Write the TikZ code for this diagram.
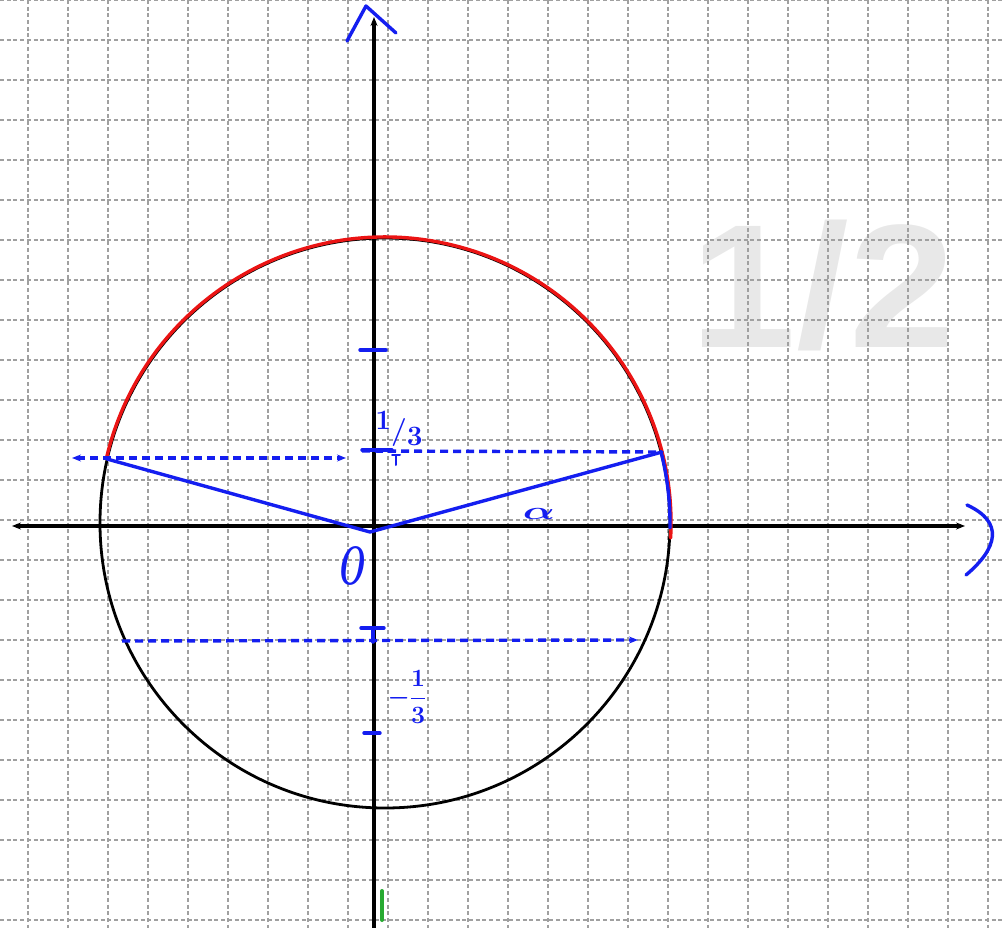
\documentclass[tikz,border=0pt]{standalone}
\usepackage{fontspec}
\newfontfamily\bigsans{Liberation Sans}
\usetikzlibrary{arrows.meta}
\definecolor{hblue}{RGB}{20,30,240}
\definecolor{hred}{RGB}{235,20,20}
\definecolor{hgreen}{RGB}{40,170,50}
\definecolor{gridgray}{RGB}{160,160,160}
\definecolor{wm}{RGB}{232,232,232}
\begin{document}
\begin{tikzpicture}[x=1pt,y=-1pt,line cap=round,line join=round,
  gridline/.style={gridgray,line width=1.6pt,dash pattern=on 4pt off 2.7pt,line cap=butt},
  axisline/.style={black,line width=3.2pt},
  circleline/.style={black,line width=2.8pt},
  redline/.style={hred,line width=3.4pt},
  blueline/.style={hblue,line width=3.4pt},
  bluedash/.style={hblue,line width=3.4pt,dash pattern=on 8pt off 5pt,line cap=butt},
  hand/.style={text=hblue,inner sep=0pt}]
\useasboundingbox (0,0) rectangle (1004,928);
% watermark
\node[text=wm,font=\bigsans\bfseries\fontsize{176}{176}\selectfont,inner sep=0pt,anchor=base,xscale=1.08] (half) at (823,347) {1/2};
% grid
\foreach \x in {28,68,...,988} \draw[gridline] (\x,0) -- (\x,928);
\foreach \y in {0,40,...,920} \draw[gridline] (0,\y) -- (1004,\y);
% circle
\coordinate (C) at (385,523);
\draw[circleline] (C) circle[radius=285];
% axes
\coordinate (xl) at (12,526);
\coordinate (xr) at (965,526);
\coordinate (yb) at (374,928);
\coordinate (yt) at (374,17);
\draw[axisline,{Stealth[length=9pt,width=7pt]}-{Stealth[length=9pt,width=7pt]}] (xl) -- (xr);
\draw[axisline,-{Stealth[length=9pt,width=7pt]}] (yb) -- (yt);
% red arc
\draw[redline] (C) ++(-167:286) arc[start angle=-167,end angle=3,radius=286];
% blue arc on the right
\draw[blueline] (C) ++(-14.5:285) arc[start angle=-14.5,end angle=1,radius=285];
% radii
\coordinate (P) at (107,459);
\coordinate (Q) at (662,452);
\coordinate (O) at (370,532);
\draw[blueline] (P) -- (O) -- (Q);
% dashed lines
\coordinate (dl1) at (72,458);
\coordinate (dl2) at (346,458);
\coordinate (dr1) at (362,451);
\coordinate (lo1) at (122,641);
\coordinate (lo2) at (638,640);
\draw[bluedash,{Stealth[length=9pt,width=7pt]}-{Stealth[length=9pt,width=7pt]}] (dl1) -- (dl2);
\draw[bluedash] (dr1) -- (Q);
\draw[bluedash,-{Stealth[length=9pt,width=7pt]}] (lo1) -- (lo2);
% ticks on the y axis
\coordinate (t1a) at (360,350); \coordinate (t1b) at (386,350);
\draw[blueline] (t1a) -- (t1b);
\coordinate (t2a) at (362,450); \coordinate (t2b) at (392,450);
\draw[blueline] (t2a) -- (t2b);
\coordinate (t3a) at (361,628); \coordinate (t3b) at (384,628);
\coordinate (t3c) at (373,628); \coordinate (t3d) at (373,642);
\draw[blueline] (t3a) -- (t3b) (t3c) -- (t3d);
\coordinate (t4a) at (364,733); \coordinate (t4b) at (380,733);
\draw[blueline] (t4a) -- (t4b);
\coordinate (s1) at (396,455); \coordinate (s2) at (396,465);
\coordinate (s3) at (392,455); \coordinate (s4) at (400,455);
\draw[hblue,line width=2pt] (s1) -- (s2) (s3) -- (s4);
% hand-drawn axis ends
\coordinate (la) at (347,41); \coordinate (lb) at (366,6); \coordinate (lc) at (396,33);
\draw[blueline] (la) -- (lb) -- (lc);
\coordinate (ra) at (967,505); \coordinate (rb) at (966,575);
\draw[blueline] (ra) .. controls (1004,522) and (998,548) .. (rb);
% green mark
\coordinate (g1) at (382,891); \coordinate (g2) at (382,920);
\draw[hgreen,line width=4pt] (g1) -- (g2);
% labels
\node[hand,font=\fontsize{28}{28}\selectfont\bfseries] (third) at (399,429) {\raisebox{0.35em}{1}/\raisebox{-0.2em}{3}};
\node[hand,font=\fontsize{32}{32}\selectfont\boldmath] (mthird) at (407,697) {$\displaystyle -\frac{1}{3}$};
\node[hand,font=\fontsize{54}{54}\selectfont\itshape\bfseries,xscale=0.6] (olabel) at (350,566) {O};
\node[hand,font=\fontsize{44}{44}\selectfont\boldmath,xscale=1.7] (alabel) at (539,514) {$\alpha$};
\end{tikzpicture}
\end{document}
